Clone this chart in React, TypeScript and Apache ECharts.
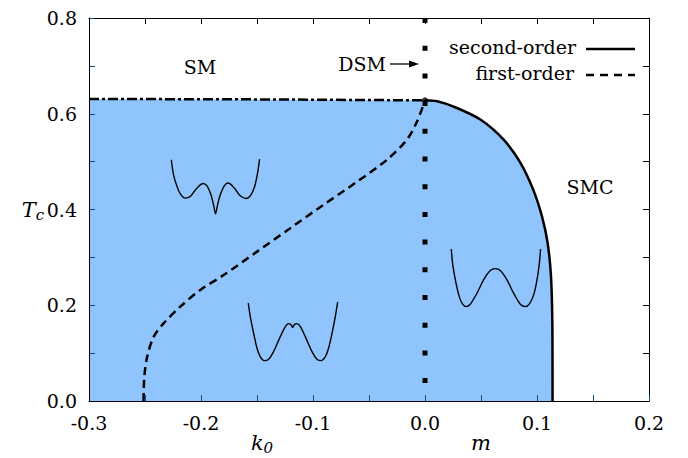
import { useEffect, useRef } from "react";
import * as echarts from "echarts";

// Axis ranges and tick steps
const xRange = [-0.3, 0.2];
const yRange = [0, 0.8];
const xTickStep = 0.05;
const yTickStep = 0.1;

// Phase boundaries (x = k0 on the left, m on the right; y = Tc)
const flatBoundary: [number, number][] = [
  [-0.3, 0.631], [-0.15, 0.630], [0, 0.628],
];
const secondOrder: [number, number][] = [
  [0, 0.628], [0.0107, 0.626], [0.0255, 0.615], [0.0494, 0.588], [0.0702, 0.546],
  [0.0851, 0.498], [0.0967, 0.441], [0.1045, 0.385], [0.1095, 0.33], [0.1125, 0.26],
  [0.1137, 0.163], [0.11385, 0.08], [0.1139, 0],
];
const firstOrder: [number, number][] = [
  [-0.2513, 0], [-0.2506, 0.051], [-0.248, 0.093], [-0.2423, 0.134], [-0.2334, 0.162],
  [-0.2185, 0.197], [-0.2006, 0.232], [-0.1798, 0.263], [-0.15, 0.312], [-0.1203, 0.361],
  [-0.0905, 0.41], [-0.0607, 0.458], [-0.0339, 0.504], [-0.0161, 0.546], [-0.0071, 0.584],
  [0, 0.628],
];
const dsmLine: [number, number][] = [[0, 0.8], [0, 0]];

// Sketches of the free-energy landscape in each phase
const potentialSM: [number, number][] = [
  [-0.2265, 0.5039], [-0.2245, 0.4725], [-0.2214, 0.448], [-0.2185, 0.4328], [-0.214, 0.4238],
  [-0.2096, 0.4271], [-0.2036, 0.4447], [-0.1982, 0.4543], [-0.1946, 0.4495], [-0.1911, 0.4307],
  [-0.1888, 0.4098], [-0.187, 0.391], [-0.1852, 0.4098], [-0.1828, 0.4307], [-0.1792, 0.4495],
  [-0.1756, 0.4552], [-0.1703, 0.4447], [-0.1649, 0.4286], [-0.1596, 0.423], [-0.1554, 0.4307],
  [-0.1521, 0.448], [-0.1495, 0.4761], [-0.1477, 0.5053],
];
const potentialLow: [number, number][] = [
  [-0.1578, 0.2043], [-0.156, 0.1763], [-0.153, 0.1415], [-0.15, 0.1102], [-0.1471, 0.0926],
  [-0.1435, 0.0843], [-0.1396, 0.0872], [-0.1352, 0.1031], [-0.1292, 0.1344], [-0.1247, 0.1553],
  [-0.1218, 0.1616], [-0.1196, 0.1595], [-0.1182, 0.1533], [-0.1167, 0.1595], [-0.1143, 0.1616],
  [-0.1113, 0.1553], [-0.1069, 0.1344], [-0.1009, 0.1031], [-0.0964, 0.0872], [-0.0929, 0.0843],
  [-0.089, 0.0926], [-0.0861, 0.1102], [-0.083, 0.1415], [-0.0801, 0.1763], [-0.078, 0.2064],
];
const potentialSMC: [number, number][] = [
  [0.0235, 0.3172], [0.0246, 0.2879], [0.0271, 0.253], [0.0306, 0.2181], [0.0336, 0.2022],
  [0.0366, 0.1972], [0.0404, 0.2022], [0.0464, 0.2252], [0.0523, 0.253], [0.0583, 0.2724],
  [0.0628, 0.2766], [0.0672, 0.2724], [0.0732, 0.253], [0.0791, 0.2252], [0.0851, 0.2022],
  [0.0896, 0.1972], [0.0931, 0.2022], [0.097, 0.2216], [0.1, 0.253], [0.1021, 0.2879],
  [0.1032, 0.3172],
];

// Text
const legendNames = ["second-order", "first-order"];
const regionLabels = { sm: "SM", smc: "SMC", dsm: "DSM" };

const FONT = "DejaVu Serif";
const FILL = "rgb(143,197,252)";
const TICK_IN_FILL = "rgb(20,72,126)";

const isMultiple = (v: number, step: number) =>
  Math.abs(Math.round(v / step) * step - v) < 1e-6;

function xAxisDef(position: "bottom" | "top", opts: any) {
  return {
    type: "value",
    min: xRange[0],
    max: xRange[1],
    interval: xTickStep,
    position,
    splitLine: { show: false },
    axisLine: { show: false, onZero: false, lineStyle: { color: "#000", width: 1 } },
    axisTick: { show: true, inside: true, length: 6, lineStyle: { color: "#000", width: 1 } },
    axisLabel: { show: false },
    z: 6,
    ...opts,
  };
}

function yAxisDef(position: "left" | "right", opts: any) {
  return {
    type: "value",
    min: yRange[0],
    max: yRange[1],
    interval: yTickStep,
    position,
    splitLine: { show: false },
    axisLine: { show: false, onZero: false, lineStyle: { color: "#000", width: 1 } },
    axisTick: { show: true, inside: true, length: 6, lineStyle: { color: "#000", width: 1 } },
    axisLabel: { show: false },
    z: 6,
    ...opts,
  };
}

const border = { show: true, onZero: false, lineStyle: { color: "#000", width: 1 } };
const tickLabel = {
  show: true,
  margin: 12,
  color: "#000",
  fontSize: 19,
  fontFamily: FONT,
};

export default function App() {
  const ref = useRef<HTMLDivElement>(null);

  useEffect(() => {
    if (!ref.current) return;
    const chart = echarts.init(ref.current, null, { renderer: "svg" });

    const thinCurve = (data: [number, number][]) => ({
      type: "line",
      data,
      smooth: 0.3,
      showSymbol: false,
      silent: true,
      lineStyle: { color: "#000", width: 1.4 },
      z: 4,
    });

    const text = (t: string, x: number, y: number, align: string) => ({
      type: "text",
      x,
      y,
      style: {
        text: t,
        fontSize: 19,
        fontFamily: FONT,
        fill: "#000",
        align,
        verticalAlign: "middle",
      },
    });

    const option: any = {
      animation: false,
      backgroundColor: "#fff",
      textStyle: { fontFamily: FONT },
      grid: {
        left: 89,
        right: 39,
        top: 18,
        bottom: 57,
        containLabel: false,
        outerBoundsMode: "none",
      },
      xAxis: [
        xAxisDef("bottom", {
          axisTick: { show: true, inside: true, length: 6, lineStyle: { color: TICK_IN_FILL, width: 1 } },
          axisLabel: {
            ...tickLabel,
            formatter: (v: number) => (isMultiple(v, 0.1) ? v.toFixed(1) : ""),
          },
        }),
        xAxisDef("top", { axisLine: border }),
        xAxisDef("bottom", { axisLine: border, axisTick: { show: false }, z: 7 }),
      ],
      yAxis: [
        yAxisDef("left", {
          axisTick: { show: true, inside: true, length: 6, lineStyle: { color: TICK_IN_FILL, width: 1 } },
          axisLabel: {
            ...tickLabel,
            formatter: (v: number) => (isMultiple(v, 0.2) ? v.toFixed(1) : ""),
          },
        }),
        yAxisDef("right", { axisLine: border }),
        yAxisDef("left", { axisLine: border, axisTick: { show: false }, z: 7 }),
      ],
      series: [
        {
          // shaded ordered region below the flat boundary
          type: "line",
          data: flatBoundary,
          showSymbol: false,
          silent: true,
          lineStyle: { width: 0, opacity: 0 },
          areaStyle: { color: FILL, opacity: 1 },
          z: 1,
        },
        {
          // shaded ordered region below the second-order line
          type: "line",
          data: secondOrder,
          smooth: 0.3,
          showSymbol: false,
          silent: true,
          lineStyle: { width: 0, opacity: 0 },
          areaStyle: { color: FILL, opacity: 1 },
          z: 1,
        },
        {
          type: "line",
          data: flatBoundary,
          showSymbol: false,
          silent: true,
          lineStyle: { color: "#000", width: 2.5, type: [10, 3, 3, 3] },
          z: 3,
        },
        {
          name: legendNames[0],
          type: "line",
          data: secondOrder,
          smooth: 0.3,
          showSymbol: false,
          silent: true,
          lineStyle: { color: "#000", width: 2.5 },
          z: 3,
        },
        {
          name: legendNames[1],
          type: "line",
          data: firstOrder,
          smooth: 0.3,
          showSymbol: false,
          silent: true,
          lineStyle: { color: "#000", width: 2.5, type: [8, 5] },
          z: 3,
        },
        {
          type: "line",
          data: dsmLine,
          showSymbol: false,
          silent: true,
          lineStyle: { color: "#000", width: 5, type: [5, 22.7], cap: "butt" },
          z: 3,
        },
        {
          type: "scatter",
          data: [flatBoundary[flatBoundary.length - 1]],
          symbol: "circle",
          symbolSize: 6,
          silent: true,
          itemStyle: { color: "#000" },
          z: 5,
        },
        thinCurve(potentialSM),
        thinCurve(potentialLow),
        thinCurve(potentialSMC),
      ],
      graphic: [
        text(regionLabels.sm, 200, 67, "center"),
        text(regionLabels.smc, 590, 187, "center"),
        text(regionLabels.dsm, 386, 64, "right"),
        {
          type: "line",
          shape: { x1: 390, y1: 64, x2: 411, y2: 64 },
          style: { stroke: "#000", lineWidth: 1.3 },
        },
        {
          type: "polygon",
          shape: { points: [[409, 60.5], [419, 64], [409, 67.5]] },
          style: { fill: "#000" },
        },
        // key
        text(legendNames[0], 576, 47, "right"),
        {
          type: "line",
          shape: { x1: 586, y1: 49, x2: 635, y2: 49 },
          style: { stroke: "#000", lineWidth: 2.5 },
        },
        text(legendNames[1], 574, 73, "right"),
        {
          type: "line",
          shape: { x1: 586, y1: 75, x2: 635, y2: 75 },
          style: { stroke: "#000", lineWidth: 2.5, lineDash: [8, 6] },
        },
        // axis titles
        {
          type: "text",
          x: 262,
          y: 443,
          style: {
            text: "{a|k}{b|0}",
            align: "center",
            verticalAlign: "middle",
            rich: {
              a: { fontSize: 21, fontStyle: "italic", fontFamily: FONT, fill: "#000" },
              b: { fontSize: 15, fontStyle: "italic", fontFamily: FONT, fill: "#000", padding: [9, 0, 0, 0] },
            },
          },
        },
        {
          type: "text",
          x: 481,
          y: 443,
          style: {
            text: "m",
            fontSize: 21,
            fontStyle: "italic",
            fontFamily: FONT,
            fill: "#000",
            align: "center",
            verticalAlign: "middle",
          },
        },
        {
          type: "text",
          x: 33,
          y: 210,
          style: {
            text: "{a|T}{b|c}",
            align: "center",
            verticalAlign: "middle",
            rich: {
              a: { fontSize: 21, fontStyle: "italic", fontFamily: FONT, fill: "#000" },
              b: { fontSize: 15, fontStyle: "italic", fontFamily: FONT, fill: "#000", padding: [9, 0, 0, 0] },
            },
          },
        },
      ],
    };

    chart.setOption(option);
    return () => chart.dispose();
  }, []);

  return (
    <div
      ref={ref}
      style={{ position: "fixed", left: 0, top: 0, width: 688, height: 458 }}
    />
  );
}
